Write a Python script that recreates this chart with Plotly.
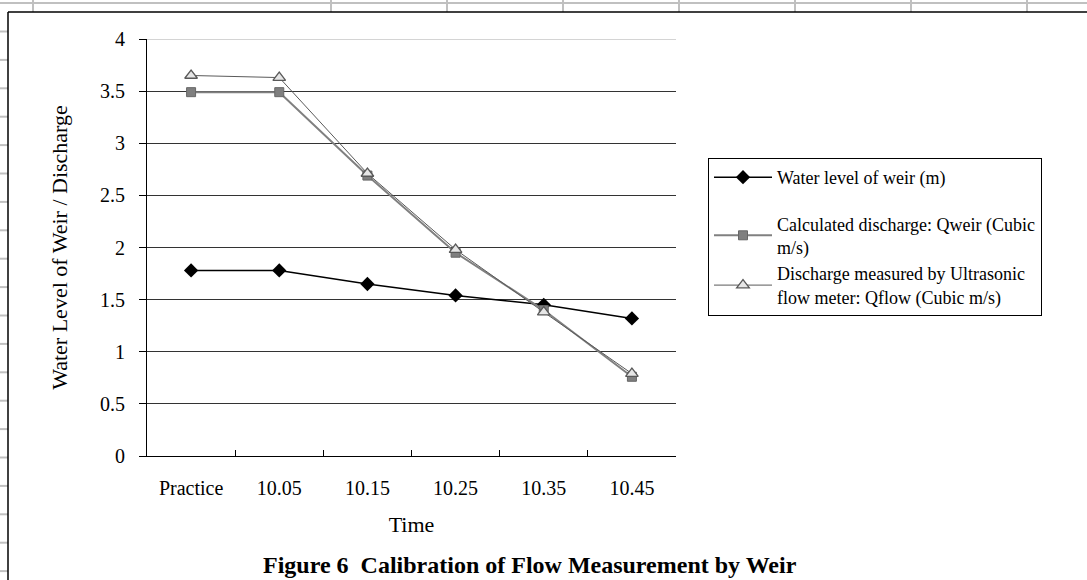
import plotly.graph_objects as go

categories = ["Practice", "10.05", "10.15", "10.25", "10.35", "10.45"]
water_level = [1.78, 1.78, 1.65, 1.54, 1.45, 1.32]
q_weir = [3.49, 3.49, 2.69, 1.95, 1.40, 0.76]
q_flow = [3.65, 3.63, 2.71, 1.98, 1.38, 0.79]
y_ticks = [0, 0.5, 1, 1.5, 2, 2.5, 3, 3.5, 4]

names = [
    "Water level of weir (m)",
    "Calculated discharge: Qweir (Cubic<br>m/s)",
    "Discharge measured by Ultrasonic<br>flow meter: Qflow (Cubic m/s)",
]

W, H = 1087, 580
L, R, T, B = 147, 411, 39, 124
PW, PH = W - L - R, H - T - B
FONT = "Liberation Serif, Times New Roman, serif"


def px(x):
    return (x - L) / PW


def py(y):
    return (H - B - y) / PH


fig = go.Figure()
fig.add_trace(go.Scatter(
    x=categories, y=water_level, name=names[0], mode="lines+markers",
    line=dict(color="#000000", width=1.5),
    marker=dict(symbol="diamond", size=11, color="#000000"),
    legendgroup="a",
))
fig.add_trace(go.Scatter(
    x=categories, y=q_weir, name=names[1], mode="lines+markers",
    line=dict(color="#808080", width=2),
    marker=dict(symbol="square", size=9, color="#7f7f7f",
                line=dict(color="#666666", width=1)),
    legendgroup="b",
))
fig.add_trace(go.Scatter(
    x=categories, y=q_flow, name=names[2], mode="lines+markers",
    line=dict(color="#5a5a5a", width=1),
    marker=dict(symbol="triangle-up", size=11, color="#e6e6e6",
                line=dict(color="#595959", width=1.3)),
    legendgroup="b",
))

shapes = []
grey = "#c0c0c0"
# spreadsheet cell lines around the chart object
shapes.append(dict(type="line", xref="paper", yref="paper",
                   x0=px(0), x1=px(W), y0=py(3), y1=py(3),
                   line=dict(color=grey, width=2)))
for vx in [33, 331, 447, 563, 679, 795, 911, 1027]:
    shapes.append(dict(type="line", xref="paper", yref="paper",
                       x0=px(vx), x1=px(vx), y0=py(0), y1=py(12),
                       line=dict(color=grey, width=2)))
yy = 31.5
while yy < H:
    shapes.append(dict(type="line", xref="paper", yref="paper",
                       x0=px(0), x1=px(8), y0=py(yy), y1=py(yy),
                       line=dict(color=grey, width=2)))
    yy += 28.4
# chart frame
shapes.append(dict(type="line", xref="paper", yref="paper",
                   x0=px(8), x1=px(W + 5), y0=py(12), y1=py(12),
                   line=dict(color="#000000", width=1.5)))
shapes.append(dict(type="line", xref="paper", yref="paper",
                   x0=px(8), x1=px(8), y0=py(12), y1=py(H + 5),
                   line=dict(color="#000000", width=1.5)))
# faint top gridline
shapes.append(dict(type="line", xref="paper", yref="y",
                   x0=0, x1=1, y0=4, y1=4,
                   line=dict(color="#d4d4d4", width=2), layer="below"))

fig.update_layout(
    width=W, height=H,
    margin=dict(l=L, r=R, t=T, b=B, autoexpand=False),
    paper_bgcolor="white", plot_bgcolor="white",
    font=dict(family=FONT, size=19, color="#000000"),
    showlegend=True,
    legend=dict(
        x=px(708), y=py(158), xanchor="left", yanchor="top",
        bordercolor="#000000", borderwidth=1, bgcolor="white",
        font=dict(family=FONT, size=18), tracegroupgap=20,
        traceorder="grouped", itemwidth=58,
    ),
    shapes=shapes,
    annotations=[dict(
        text="<b>Figure 6\u00a0 Calibration of Flow Measurement by Weir</b>",
        xref="paper", yref="paper", x=px(530), y=py(565),
        xanchor="center", yanchor="middle", showarrow=False,
        font=dict(family=FONT, size=24, color="#000000"),
    )],
)
fig.update_xaxes(
    type="category", range=[-0.5, 5.5], autorange=False,
    showline=True, linecolor="#000000", linewidth=1,
    ticks="inside", tickson="boundaries", ticklen=6, tickcolor="#000000",
    showgrid=False, ticklabelstandoff=14,
    title=dict(text="Time", font=dict(family=FONT, size=22), standoff=18),
    tickfont=dict(family=FONT, size=20),
)
fig.update_yaxes(
    range=[0, 4], tickvals=y_ticks, ticktext=[f"{v:g}" for v in y_ticks],
    showline=True, linecolor="#000000", linewidth=1,
    ticks="outside", ticklen=7, tickcolor="#000000",
    showgrid=True, gridcolor="#333333", gridwidth=1, zeroline=False,
    ticklabelstandoff=10,
    title=dict(text="Water Level of Weir / Discharge",
               font=dict(family=FONT, size=22), standoff=26),
    tickfont=dict(family=FONT, size=20),
)

fig.write_html("out.html")
